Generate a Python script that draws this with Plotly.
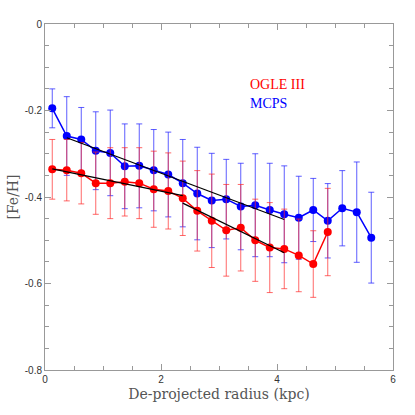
import plotly.graph_objects as go

# radial bins (kpc)
radius = [0.125 + 0.25 * i for i in range(23)]

mcps_feh = [-0.195, -0.259, -0.267, -0.293, -0.298, -0.329, -0.328, -0.338, -0.348,
            -0.368, -0.392, -0.408, -0.405, -0.422, -0.419, -0.430, -0.440, -0.448,
            -0.430, -0.455, -0.426, -0.435, -0.494]
mcps_err = [0.045, 0.091, 0.074, 0.090, 0.099, 0.098, 0.097, 0.094, 0.098,
            0.101, 0.107, 0.109, 0.092, 0.100, 0.119, 0.108, 0.112, 0.096,
            0.073, 0.086, 0.087, 0.116, 0.105]

ogle_feh = [-0.336, -0.338, -0.345, -0.368, -0.368, -0.365, -0.368, -0.382, -0.386,
            -0.403, -0.432, -0.455, -0.477, -0.471, -0.500, -0.517, -0.520, -0.535,
            -0.555, -0.481]
ogle_err = [0.069, 0.071, 0.071, 0.072, 0.082, 0.079, 0.082, 0.088, 0.088,
            0.086, 0.093, 0.108, 0.106, 0.100, 0.095, 0.104, 0.092, 0.084,
            0.077, 0.101]

# linear fits: (x0, y0, x1, y1)
fit_mcps = [0.375, -0.263, 4.125, -0.452]
fit_ogle_inner = [0.125, -0.335, 2.375, -0.397]
fit_ogle_outer = [2.375, -0.414, 4.125, -0.529]

fig = go.Figure()

fig.add_trace(go.Scatter(
    x=radius, y=mcps_feh, mode="lines+markers",
    line=dict(color="#0000ff", width=1.5),
    marker=dict(color="#0000ff", size=8),
    error_y=dict(type="data", array=mcps_err, color="rgba(40,40,255,0.75)",
                 thickness=1, width=3),
    showlegend=False))

fig.add_trace(go.Scatter(
    x=radius[:len(ogle_feh)], y=ogle_feh, mode="lines+markers",
    line=dict(color="#ff0000", width=1.5),
    marker=dict(color="#ff0000", size=8),
    error_y=dict(type="data", array=ogle_err, color="rgba(255,40,40,0.7)",
                 thickness=1, width=3),
    showlegend=False))

for f in (fit_mcps, fit_ogle_inner, fit_ogle_outer):
    fig.add_trace(go.Scatter(x=[f[0], f[2]], y=[f[1], f[3]], mode="lines",
                             line=dict(color="black", width=1.3),
                             showlegend=False))

fig.add_annotation(x=3.5, y=-0.141, text="OGLE III", showarrow=False,
                   xanchor="left", font=dict(family="Liberation Serif", size=14, color="#ff0000"))
fig.add_annotation(x=3.5, y=-0.183, text="MCPS", showarrow=False,
                   xanchor="left", font=dict(family="Liberation Serif", size=14, color="#0000ff"))

axis_common = dict(
    showgrid=False, zeroline=False, showline=True, linecolor="#999999", linewidth=1,
    mirror="allticks", ticks="inside", tickcolor="#999999", ticklen=6,
    automargin=False,
    tickfont=dict(family="Liberation Sans", size=10, color="#333333"),
)

fig.update_xaxes(range=[0, 6], tickvals=[0, 2, 4, 6], ticktext=["0", "2", "4", "6"],
                 minor=dict(dtick=0.5, ticks="inside", ticklen=4, tickcolor="#999999"),
                 title=dict(text="De-projected radius (kpc)", standoff=5,
                            font=dict(family="DejaVu Serif", size=14, color="#555555")),
                 **axis_common)
fig.update_yaxes(range=[-0.8, 0], tickvals=[-0.8, -0.6, -0.4, -0.2, 0],
                 ticktext=["-0.8", "-0.6", "-0.4", "-0.2", "0"],
                 minor=dict(dtick=0.05, ticks="inside", ticklen=4, tickcolor="#999999"),
                 title=dict(text="[Fe/H]", standoff=2,
                            font=dict(family="DejaVu Serif", size=14, color="#555555")),
                 **axis_common)

fig.update_layout(
    width=415, height=415,
    margin=dict(l=45, r=22, t=24, b=45),
    plot_bgcolor="white", paper_bgcolor="white",
)

# drop the browser's default page margin so the figure sits at (0, 0)
fig.write_html("out.html", config={"displayModeBar": False},
               post_script="document.body.style.margin='0';")
